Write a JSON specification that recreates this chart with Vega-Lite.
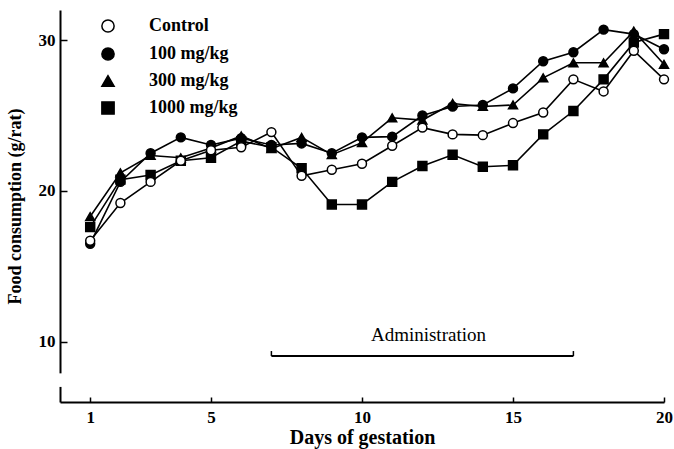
{
  "$schema": "https://vega.github.io/schema/vega-lite/v6.json",
  "width": 604,
  "height": 392,
  "autosize": "none",
  "padding": {"left": 60, "top": 10, "right": 10, "bottom": 47},
  "background": "white",
  "config": {
    "view": {"stroke": null},
    "font": "Liberation Serif",
    "axis": {"grid": false, "domainColor": "black", "tickColor": "black", "labelColor": "black", "titleColor": "black", "labelFont": "Liberation Serif", "titleFont": "Liberation Serif", "labelFontWeight": "bold", "titleFontWeight": "bold", "labelFontSize": 17, "titleFontSize": 18, "domainWidth": 2, "tickWidth": 1.5}
  },
  "datasets": {
    "food": [
      {"day": 1, "group": "100 mg/kg", "value": 16.5}, {"day": 2, "group": "100 mg/kg", "value": 20.6}, {"day": 3, "group": "100 mg/kg", "value": 22.5}, {"day": 4, "group": "100 mg/kg", "value": 23.55}, {"day": 5, "group": "100 mg/kg", "value": 23.05}, {"day": 6, "group": "100 mg/kg", "value": 23.5}, {"day": 7, "group": "100 mg/kg", "value": 23.05}, {"day": 8, "group": "100 mg/kg", "value": 23.15}, {"day": 9, "group": "100 mg/kg", "value": 22.5}, {"day": 10, "group": "100 mg/kg", "value": 23.55}, {"day": 11, "group": "100 mg/kg", "value": 23.6}, {"day": 12, "group": "100 mg/kg", "value": 25.0}, {"day": 13, "group": "100 mg/kg", "value": 25.6}, {"day": 14, "group": "100 mg/kg", "value": 25.7}, {"day": 15, "group": "100 mg/kg", "value": 26.8}, {"day": 16, "group": "100 mg/kg", "value": 28.6}, {"day": 17, "group": "100 mg/kg", "value": 29.2}, {"day": 18, "group": "100 mg/kg", "value": 30.7}, {"day": 19, "group": "100 mg/kg", "value": 30.4}, {"day": 20, "group": "100 mg/kg", "value": 29.4},
      {"day": 1, "group": "300 mg/kg", "value": 18.3}, {"day": 2, "group": "300 mg/kg", "value": 21.2}, {"day": 3, "group": "300 mg/kg", "value": 22.35}, {"day": 4, "group": "300 mg/kg", "value": 22.2}, {"day": 5, "group": "300 mg/kg", "value": 22.85}, {"day": 6, "group": "300 mg/kg", "value": 23.65}, {"day": 7, "group": "300 mg/kg", "value": 22.8}, {"day": 8, "group": "300 mg/kg", "value": 23.55}, {"day": 9, "group": "300 mg/kg", "value": 22.4}, {"day": 10, "group": "300 mg/kg", "value": 23.2}, {"day": 11, "group": "300 mg/kg", "value": 24.85}, {"day": 12, "group": "300 mg/kg", "value": 24.7}, {"day": 13, "group": "300 mg/kg", "value": 25.8}, {"day": 14, "group": "300 mg/kg", "value": 25.6}, {"day": 15, "group": "300 mg/kg", "value": 25.7}, {"day": 16, "group": "300 mg/kg", "value": 27.5}, {"day": 17, "group": "300 mg/kg", "value": 28.5}, {"day": 18, "group": "300 mg/kg", "value": 28.5}, {"day": 19, "group": "300 mg/kg", "value": 30.6}, {"day": 20, "group": "300 mg/kg", "value": 28.4},
      {"day": 1, "group": "1000 mg/kg", "value": 17.6}, {"day": 2, "group": "1000 mg/kg", "value": 20.75}, {"day": 3, "group": "1000 mg/kg", "value": 21.05}, {"day": 4, "group": "1000 mg/kg", "value": 22.0}, {"day": 5, "group": "1000 mg/kg", "value": 22.2}, {"day": 6, "group": "1000 mg/kg", "value": 23.3}, {"day": 7, "group": "1000 mg/kg", "value": 22.9}, {"day": 8, "group": "1000 mg/kg", "value": 21.5}, {"day": 9, "group": "1000 mg/kg", "value": 19.1}, {"day": 10, "group": "1000 mg/kg", "value": 19.1}, {"day": 11, "group": "1000 mg/kg", "value": 20.6}, {"day": 12, "group": "1000 mg/kg", "value": 21.65}, {"day": 13, "group": "1000 mg/kg", "value": 22.4}, {"day": 14, "group": "1000 mg/kg", "value": 21.6}, {"day": 15, "group": "1000 mg/kg", "value": 21.7}, {"day": 16, "group": "1000 mg/kg", "value": 23.75}, {"day": 17, "group": "1000 mg/kg", "value": 25.3}, {"day": 18, "group": "1000 mg/kg", "value": 27.4}, {"day": 19, "group": "1000 mg/kg", "value": 29.85}, {"day": 20, "group": "1000 mg/kg", "value": 30.4},
      {"day": 1, "group": "Control", "value": 16.7}, {"day": 2, "group": "Control", "value": 19.2}, {"day": 3, "group": "Control", "value": 20.6}, {"day": 4, "group": "Control", "value": 22.0}, {"day": 5, "group": "Control", "value": 22.7}, {"day": 6, "group": "Control", "value": 22.9}, {"day": 7, "group": "Control", "value": 23.9}, {"day": 8, "group": "Control", "value": 21.0}, {"day": 9, "group": "Control", "value": 21.4}, {"day": 10, "group": "Control", "value": 21.8}, {"day": 11, "group": "Control", "value": 23.0}, {"day": 12, "group": "Control", "value": 24.2}, {"day": 13, "group": "Control", "value": 23.75}, {"day": 14, "group": "Control", "value": 23.7}, {"day": 15, "group": "Control", "value": 24.5}, {"day": 16, "group": "Control", "value": 25.2}, {"day": 17, "group": "Control", "value": 27.4}, {"day": 18, "group": "Control", "value": 26.6}, {"day": 19, "group": "Control", "value": 29.3}, {"day": 20, "group": "Control", "value": 27.4}
    ],
    "adminEnds": [{"day": 7}, {"day": 17}]
  },
  "layer": [
    {
      "data": {"name": "food"},
      "mark": {"type": "line", "color": "black", "strokeWidth": 1.6},
      "encoding": {
        "x": {"field": "day", "type": "quantitative", "scale": {"domain": [0, 20], "nice": false, "zero": false},
              "axis": {"values": [1, 5, 10, 15, 20], "title": "Days of gestation", "titleFontSize": 20, "tickSize": -5, "labelPadding": 12, "titlePadding": 2, "labelFlush": false}},
        "y": {"field": "value", "type": "quantitative", "scale": {"domain": [6, 32], "nice": false, "zero": false},
              "axis": {"values": [10, 20, 30], "title": "Food consumption (g/rat)", "titleFontSize": 18, "tickSize": -7, "labelPadding": 12, "titlePadding": 14}},
        "detail": {"field": "group"}
      }
    },
    {
      "data": {"name": "food"},
      "mark": {"type": "point", "filled": false, "strokeWidth": 1.5, "size": 80, "opacity": 1},
      "encoding": {
        "x": {"field": "day", "type": "quantitative"},
        "y": {"field": "value", "type": "quantitative"},
        "shape": {"field": "group", "type": "nominal",
          "scale": {"domain": ["Control", "100 mg/kg", "300 mg/kg", "1000 mg/kg"], "range": ["circle", "circle", "triangle-up", "square"]},
          "legend": null},
        "fill": {"field": "group", "type": "nominal",
          "scale": {"domain": ["Control", "100 mg/kg", "300 mg/kg", "1000 mg/kg"], "range": ["white", "black", "black", "black"]},
          "legend": null},
        "color": {"field": "group", "type": "nominal",
          "scale": {"domain": ["Control", "100 mg/kg", "300 mg/kg", "1000 mg/kg"], "range": ["black", "black", "black", "black"]},
          "legend": {"title": null, "orient": "none", "legendX": 39, "legendY": 7, "padding": 0, "symbolSize": 150, "symbolStrokeWidth": 1.5, "rowPadding": 8, "labelOffset": 32, "labelFont": "Liberation Serif", "labelFontWeight": "bold", "labelFontSize": 18, "labelColor": "black"}}
      }
    },
    {
      "data": {"values": [{}]},
      "mark": {"type": "rule", "color": "white", "strokeWidth": 6},
      "encoding": {"x": {"datum": 0}, "y": {"datum": 7.0}, "y2": {"datum": 7.9}}
    },
    {
      "data": {"values": [{}]},
      "mark": {"type": "rule", "color": "black", "strokeWidth": 2},
      "encoding": {"x": {"datum": 7}, "x2": {"datum": 17}, "y": {"datum": 9.05}}
    },
    {
      "data": {"name": "adminEnds"},
      "mark": {"type": "rule", "color": "black", "strokeWidth": 1.5},
      "encoding": {"x": {"field": "day", "type": "quantitative"}, "y": {"datum": 9.05}, "y2": {"datum": 9.38}}
    },
    {
      "data": {"values": [{"label": "Administration"}]},
      "mark": {"type": "text", "font": "Liberation Serif", "fontWeight": "normal", "fontSize": 19, "color": "black", "baseline": "middle", "align": "center"},
      "encoding": {"x": {"datum": 12.2}, "y": {"datum": 10.45}, "text": {"field": "label"}}
    }
  ]
}
